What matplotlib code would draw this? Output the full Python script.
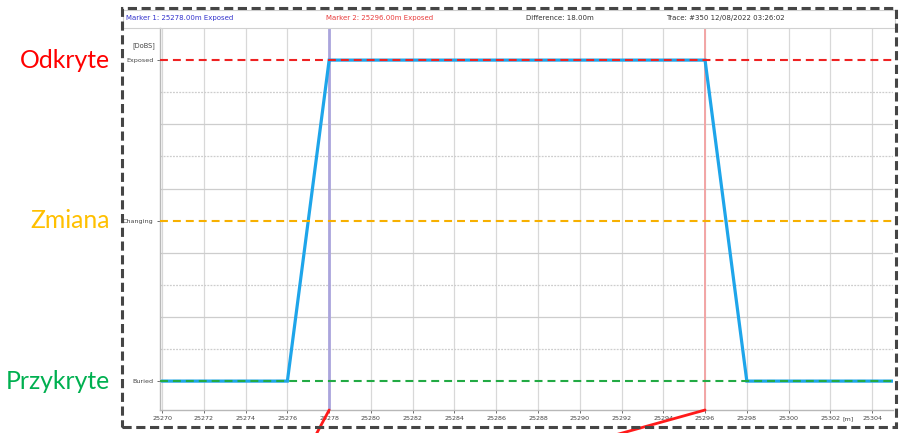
import matplotlib
matplotlib.use("Agg")
import matplotlib.pyplot as plt
from matplotlib.patches import Rectangle
from matplotlib.transforms import blended_transform_factory

# Cover state along the route (DoBS: depth of burial state)
distance_m = [25269.9, 25276, 25278, 25296, 25298, 25305.0]
state_level = [0, 0, 2, 2, 0, 0]

state_values = [0, 1, 2]
state_names = ["Buried", "Changing", "Exposed"]
polish_names = ["Przykryte", "Zmiana", "Odkryte"]
polish_colors = ["#00b050", "#ffc000", "#ff0000"]
ref_colors = ["#22aa44", "#f7b000", "#ee2222"]

x_ticks = list(range(25270, 25305, 2))
x_min, x_max = 25269.9, 25305.0
y_min, y_max = -0.18, 2.2

marker1 = 25278.0
marker2 = 25296.0
marker_state = "Exposed"
trace_info = "Trace: #350 12/08/2022 03:26:02"

W, H = 904, 433
fig = plt.figure(figsize=(W / 100, H / 100), dpi=100)
fig.patch.set_facecolor("white")

ax = fig.add_axes([160 / W, 1 - 410 / H, (893 - 160) / W, (410 - 28) / H])
ax.set_xlim(x_min, x_max)
ax.set_ylim(y_min, y_max)

# grid
for xt in x_ticks:
    ax.axvline(xt, color="#d8d8d8", lw=0.9, zorder=0)
for k in range(1, 10):
    if k == 5:
        continue
    ax.axhline(0.2 * k, color="#cdcdcd", lw=0.9,
               ls=(0, (1.5, 1)) if k % 2 else "-", zorder=0)

# marker lines
ax.axvline(marker1, color="#aaa4dc", lw=2.0, zorder=1)
ax.axvline(marker2, color="#f2a5a5", lw=1.4, zorder=1)

# state trace
ax.plot(distance_m, state_level, color="#1ea5ea", lw=2.3, zorder=2,
        solid_joinstyle="miter")

# reference levels
for v, c in zip(state_values, ref_colors):
    ax.axhline(v, color=c, lw=1.5, ls=(0, (3.8, 2.4)), zorder=3)

ax.set_xticks(x_ticks)
ax.set_xticklabels([str(t) for t in x_ticks])
ax.set_yticks(state_values)
ax.set_yticklabels(state_names)
ax.tick_params(axis="both", labelsize=4.6, colors="#555555", length=2.5,
               width=0.6, pad=2)
ax.tick_params(axis="x", labelcolor="#444444")
ax.tick_params(axis="y", labelcolor="#444444")
for s in ["top", "right"]:
    ax.spines[s].set_visible(False)
for s in ["left", "bottom"]:
    ax.spines[s].set_color("#b8b8b8")
    ax.spines[s].set_linewidth(1.0)

ax_y_tr = blended_transform_factory(ax.transAxes, ax.transData)
ax.text(-0.006, 2.09, "[DoBS]", transform=ax_y_tr, ha="right", va="center",
        fontsize=4.8, color="#444444")
ax.text(25303.1, -0.232, "[m]", ha="right", va="center",
        fontsize=4.6, color="#444444")

# red pointers at the markers
for mx, off in [(marker1, (-16, -30)), (marker2, (-108, -30))]:
    ax.annotate("", xy=(mx, y_min), xycoords="data",
                xytext=off, textcoords="offset pixels",
                arrowprops=dict(arrowstyle="-", color="#ff1a1a", lw=2.0,
                                shrinkA=0, shrinkB=0),
                annotation_clip=False)

# header bar
fig.patches.append(Rectangle((123 / W, 1 - 28 / H), (895 - 123) / W, 18 / H,
                             transform=fig.transFigure, fill=False,
                             edgecolor="#d0d0d0", lw=0.8))
hy = 1 - 18 / H
diff = marker2 - marker1
fig.text(126 / W, hy, f"Marker 1: {marker1:.2f}m {marker_state}",
         fontsize=5, color="#3333cc", va="center")
fig.text(326 / W, hy, f"Marker 2: {marker2:.2f}m {marker_state}",
         fontsize=5, color="#e83c3c", va="center")
fig.text(526 / W, hy, f"Difference: {diff:.2f}m",
         fontsize=5, color="#333333", va="center")
fig.text(666 / W, hy, trace_info, fontsize=5, color="#333333", va="center")

# Polish state labels on the left
lab_tr = blended_transform_factory(fig.transFigure, ax.transData)
for v, name, c in zip(state_values, polish_names, polish_colors):
    fig.text(110 / W, v, name, transform=lab_tr, ha="right", va="center",
             fontsize=17.8, color=c, family=["Lato", "DejaVu Sans"])

# dashed outer frame
fig.patches.append(Rectangle((122 / W, 1 - 427 / H), (896 - 122) / W,
                             (427 - 8) / H, transform=fig.transFigure,
                             fill=False, edgecolor="#454545", lw=2.2,
                             ls=(0, (3, 1.5))))

fig.savefig("out.png", dpi=100)
